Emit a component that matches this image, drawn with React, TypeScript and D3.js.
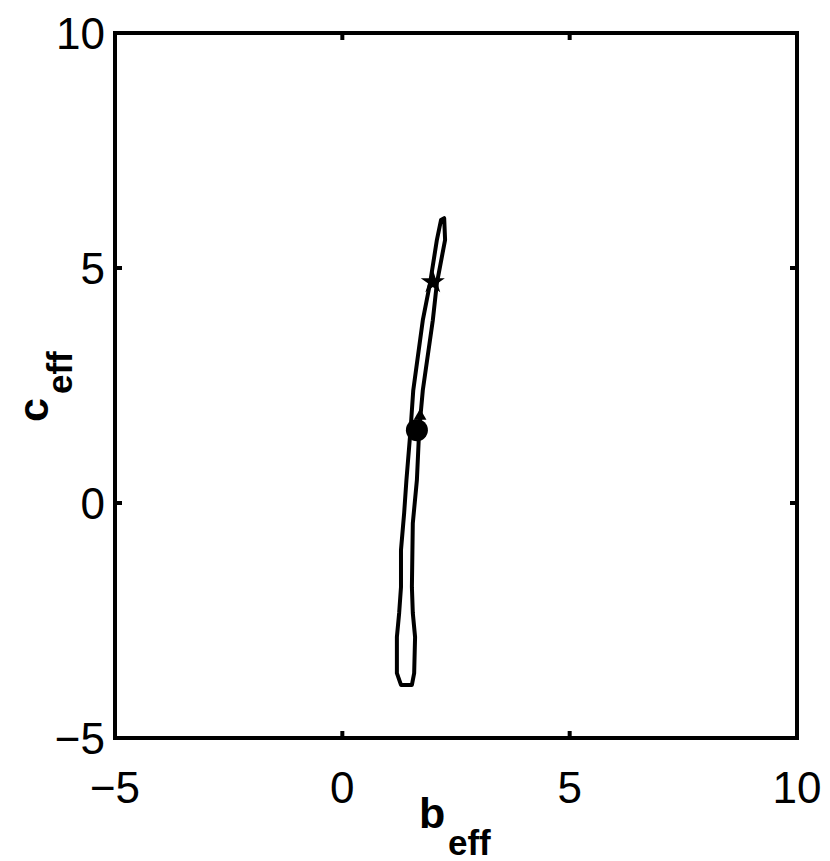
import React from "react";
import * as d3 from "d3";

const loopX = [2.24, 2.26, 2.08, 1.99, 1.77, 1.69, 1.64, 1.55, 1.53, 1.55, 1.60, 1.58, 1.53, 1.29, 1.20, 1.20, 1.25, 1.29, 1.29, 1.36, 1.41, 1.50, 1.56, 1.77, 1.93, 2.08, 2.17];
const loopY = [6.06, 5.60, 4.68, 3.89, 2.40, 1.55, 0.49, -0.43, -1.79, -2.34, -2.85, -3.62, -3.87, -3.87, -3.62, -2.85, -2.34, -1.79, -1.00, -0.21, 0.49, 1.55, 2.40, 3.89, 4.68, 5.60, 6.02];
const circlePt = [1.64, 1.55];
const starPt = [1.99, 4.70];
const trianglePt = [1.71, 1.85];
const xTicks = [-5, 0, 5, 10];
const yTicks = [-5, 0, 5, 10];

export default function App() {
  const W = 830, H = 861;
  const L = 115, R = 797, T = 33, B = 738;
  const x = d3.scaleLinear().domain([-5, 10]).range([L, R]);
  const y = d3.scaleLinear().domain([-5, 10]).range([B, T]);
  const pts: [number, number][] = loopX.map((v, i) => [x(v), y(loopY[i])]);
  const line = d3.line().curve(d3.curveLinearClosed)(pts) || "";
  const star = d3.symbol().type(d3.symbolStar).size(180)() || "";
  const tri = d3.symbol().type(d3.symbolTriangle).size(70)() || "";
  const font = "Liberation Sans, Arial, Helvetica, sans-serif";
  return (
    <svg width={W} height={H} style={{ position: "absolute", left: 0, top: 0 }}>
      <rect x={0} y={0} width={W} height={H} fill="white" />
      <path d={line} fill="none" stroke="black" strokeWidth={4} strokeLinejoin="round" />
      <circle cx={x(circlePt[0])} cy={y(circlePt[1])} r={11} fill="black" />
      <path d={tri} transform={`translate(${x(trianglePt[0])},${y(trianglePt[1])})`} fill="black" />
      <path d={star} transform={`translate(${x(starPt[0])},${y(starPt[1])})`} fill="black" />
      <rect x={L} y={T} width={R - L} height={B - T} fill="none" stroke="black" strokeWidth={4} />
      {xTicks.map((t) => (
        <g key={"x" + t}>
          <line x1={x(t)} x2={x(t)} y1={B} y2={B - 7} stroke="black" strokeWidth={4} />
          <line x1={x(t)} x2={x(t)} y1={T} y2={T + 7} stroke="black" strokeWidth={4} />
          <text x={x(t)} y={803} textAnchor="middle" fontFamily={font} fontSize={44}>
            {t < 0 ? "\u2212" + Math.abs(t) : t}
          </text>
        </g>
      ))}
      {yTicks.map((t) => (
        <g key={"y" + t}>
          <line x1={L} x2={L + 7} y1={y(t)} y2={y(t)} stroke="black" strokeWidth={4} />
          <line x1={R} x2={R - 7} y1={y(t)} y2={y(t)} stroke="black" strokeWidth={4} />
          <text x={105} y={y(t) + 16} textAnchor="end" fontFamily={font} fontSize={44}>
            {t < 0 ? "\u2212" + Math.abs(t) : t}
          </text>
        </g>
      ))}
      <text x={419} y={828} fontFamily={font} fontSize={43} fontWeight="bold">b</text>
      <text x={448} y={855} fontFamily={font} fontSize={35} fontWeight="bold">eff</text>
      <g transform="translate(48,422) rotate(-90)">
        <text x={0} y={0} fontFamily={font} fontSize={43} fontWeight="bold">c</text>
        <text x={28} y={24} fontFamily={font} fontSize={35} fontWeight="bold">eff</text>
      </g>
    </svg>
  );
}
